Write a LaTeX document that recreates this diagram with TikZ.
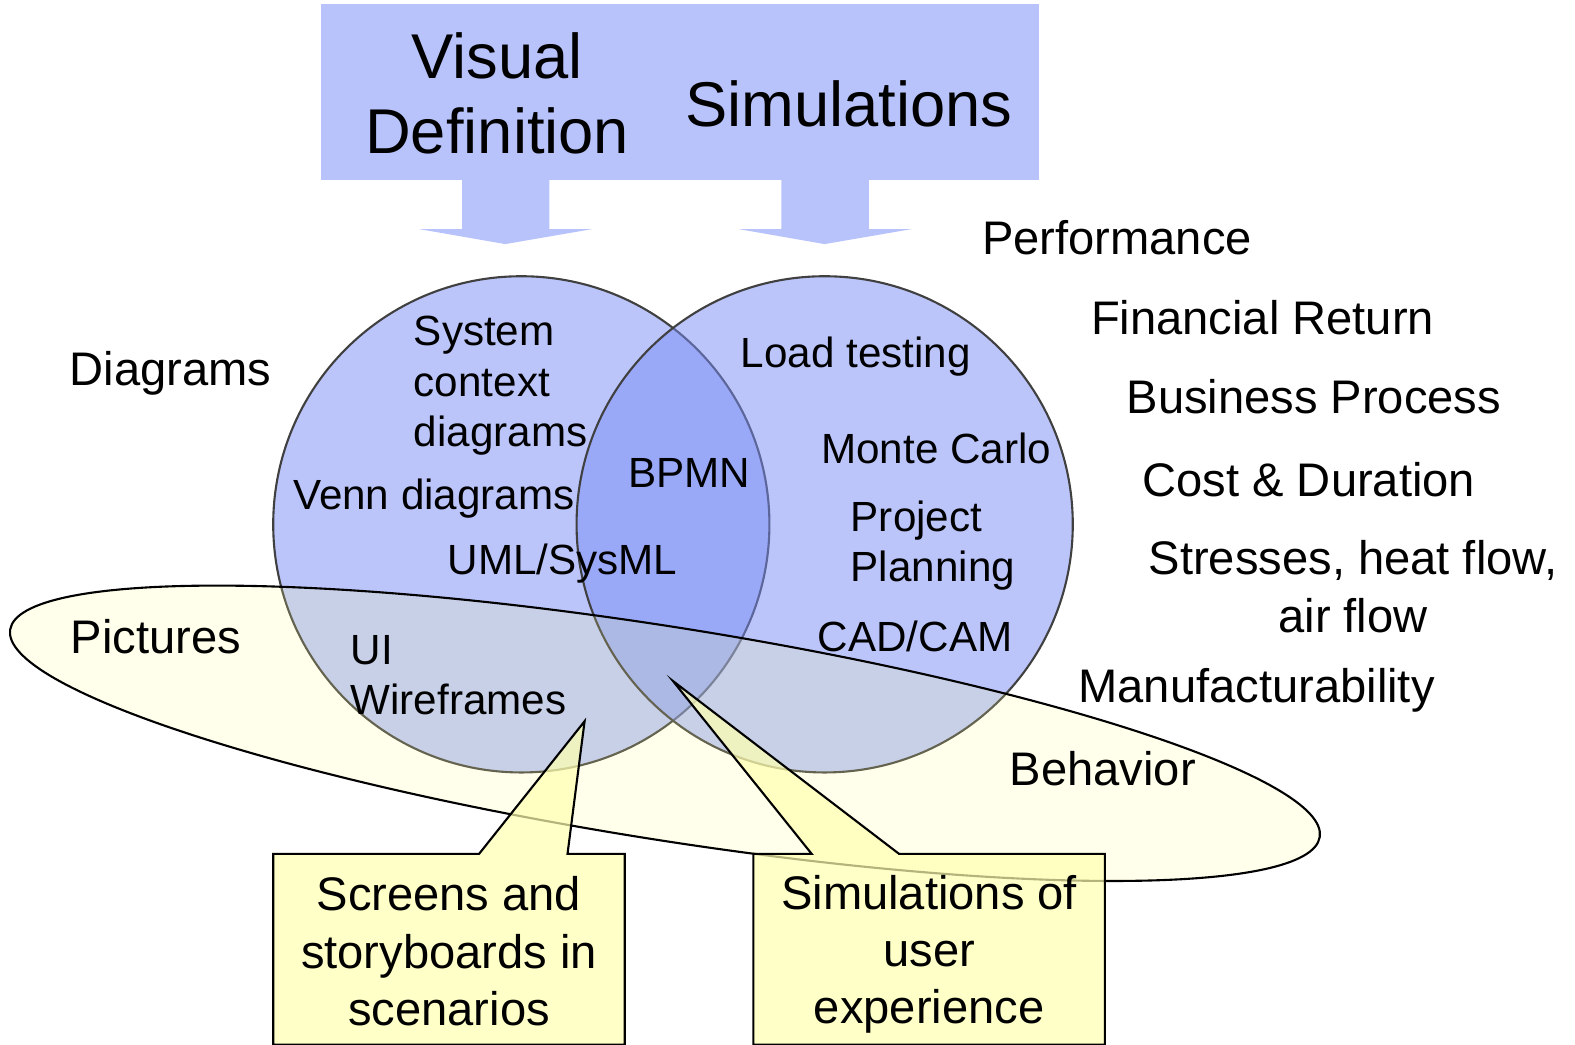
\documentclass[tikz,border=0pt]{standalone}
\usepackage{fontspec}
\setmainfont{Liberation Sans}
\usetikzlibrary{positioning}
\definecolor{vennblue}{RGB}{120,140,245}
\definecolor{titleblue}{RGB}{185,195,251}
\definecolor{picyellow}{RGB}{255,255,150}
\definecolor{noteyellow}{RGB}{255,255,176}

\begin{document}
\begin{tikzpicture}[x=0.010045cm, y=-0.010045cm, line width=0.6pt,
  lbl/.style={inner sep=0pt, font=\fontsize{13.4}{16.3}\selectfont},
  inlbl/.style={inner sep=0pt, align=left, font=\fontsize{12}{14.3}\selectfont},
  venn/.style={draw=black!75, fill=vennblue, fill opacity=0.5},
  notebox/.style={draw, fill=noteyellow, fill opacity=0.7},
  notetext/.style={inner sep=0pt, align=center, font=\fontsize{13.4}{16.3}\selectfont}]
\useasboundingbox (0,0) rectangle (1568,1040);
% title bar and its two arrows
\node[fill=titleblue, minimum width=7.18cm, minimum height=1.76cm] (title) at (677,92) {};
\fill[titleblue] (460,178) -- (460,228) -- (417,228) -- (503,243) -- (590,228) -- (547,228) -- (547,178) -- cycle;
\fill[titleblue] (778,178) -- (778,228) -- (735,228) -- (821,243) -- (908,228) -- (865,228) -- (865,178) -- cycle;
\node[align=center, font=\fontsize{18}{21.4}\selectfont] (vis) at (495,93) {Visual\\Definition};
\node[font=\fontsize{18}{21.4}\selectfont] (sim) at (845,103) {Simulations};

% the two sets and the pictures ellipse
\draw[venn] (519,522) circle (247);
\draw[venn] (821,522) circle (247);
\draw[fill=picyellow, fill opacity=0.19, rotate around={-9:(662,730)}] (662,730) ellipse (660 and 106);

% callouts
\coordinate (uitip) at (582,718);
\coordinate (uxtip) at (670,678);
\draw[notebox] (272,850) -- (477,850) -- (uitip) -- (565,850) -- (622,850) -- (622,1040) -- (272,1040) -- cycle;
\draw[notebox] (750,850) -- (808,850) -- (uxtip) -- (895,850) -- (1100,850) -- (1100,1040) -- (750,1040) -- cycle;
\node[notetext] (screens) at (447,947) {Screens and\\storyboards in\\scenarios};
\node[notetext] (uxsim) at (925,950) {Simulations of\\user\\experience};

% outer labels
\node[lbl] (perf) at (1112,237) {Performance};
\node[lbl] (fin) at (1257,316) {Financial Return};
\node[lbl] (bus) at (1308,395) {Business Process};
\node[lbl] (cost) at (1303,478) {Cost \& Duration};
\node[lbl, align=center] (stress) at (1347,584) {Stresses, heat flow,\\air flow};
\node[lbl] (manu) at (1251,687) {Manufacturability};
\node[lbl] (beh) at (1098,765) {Behavior};
\node[lbl] (diag) at (170,372) {Diagrams};
\node[lbl] (pict) at (155,634) {Pictures};

% labels inside the sets
\node[inlbl, anchor=west] (ctx) at (411,384) {System\\context\\diagrams};
\node[inlbl] (vennlbl) at (432,496) {Venn diagrams};
\node[inlbl] (uml) at (560,561) {UML/SysML};
\node[inlbl] (bpmn) at (686,471) {BPMN};
\node[inlbl, anchor=west] (ui) at (348,672) {UI\\Wireframes};
\node[inlbl] (load) at (852,355) {Load testing};
\node[inlbl] (monte) at (932,446) {Monte Carlo};
\node[inlbl, anchor=west] (plan) at (846,543) {Project\\Planning};
\node[inlbl] (cad) at (911,634) {CAD/CAM};
\end{tikzpicture}
\end{document}
